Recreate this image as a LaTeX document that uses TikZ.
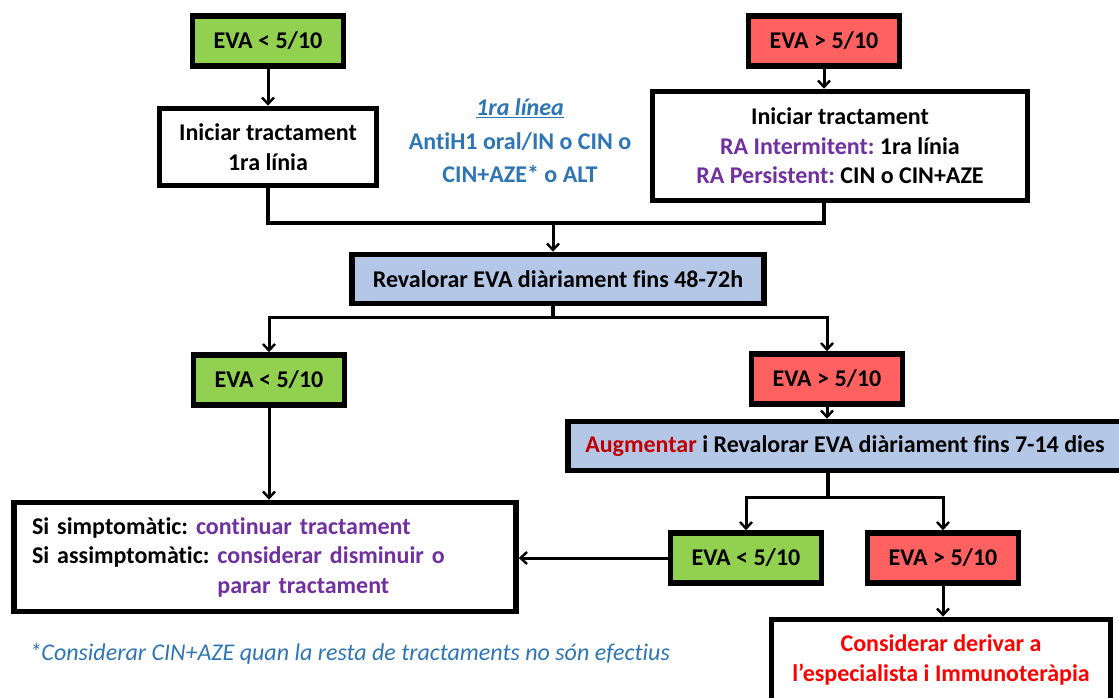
\documentclass[tikz,border=0pt]{standalone}
\usepackage{fontspec}
\setmainfont{Carlito}[Ligatures={NoCommon}]
\usepackage[svgnames]{xcolor}
\usepackage{tikz}
\usetikzlibrary{positioning, arrows.meta, calc}

\definecolor{evagreen}{HTML}{92D050}
\definecolor{evared}{HTML}{FF6161}
\definecolor{evablue}{HTML}{B4C7E7}
\definecolor{notblue}{HTML}{2E75B6}
\definecolor{stepviolet}{HTML}{7030A0}
\definecolor{augred}{HTML}{C00000}
\definecolor{derivred}{HTML}{FF0000}

\def\evafont{\fontsize{24}{29.5}\selectfont\bfseries\frenchspacing}

\begin{document}
\begin{tikzpicture}[x=1pt, y=-1pt,
    box/.style={draw=black, line width=5.5pt, font=\evafont, inner sep=3pt, align=center},
    lowbox/.style={box, fill=evagreen, minimum width=151, minimum height=50},
    highbox/.style={box, fill=evared, minimum width=151, minimum height=50},
    evalbox/.style={box, fill=evablue, minimum height=49},
    plainbox/.style={box, fill=white},
    guide/.style={font=\fontsize{24}{33.5}\selectfont\bfseries\frenchspacing, text=notblue, align=center},
    footnote/.style={font=\fontsize{24}{29}\selectfont\itshape, text=notblue},
    link/.style={line width=3pt, -{Straight Barb[length=6.5pt, width=12pt, line width=2.4pt]}},
    joint/.style={line width=3.4pt, line join=miter}]

    \useasboundingbox (0,0) rectangle (1119,698);

    % first step
    \node[lowbox] (g1) at (268,41) {EVA < 5/10};
    \node[highbox] (r1) at (824,41) {EVA > 5/10};
    \node[plainbox, minimum width=217, minimum height=77] (t1) at (268,147)
        {Iniciar tractament\\1ra línia};
    \node[plainbox, minimum width=375, minimum height=109] (t2) at (840,146)
        {Iniciar tractament\\
         {\color{stepviolet}RA Intermitent:} 1ra línia\\
         {\color{stepviolet}RA Persistent:} CIN o CIN+AZE};
    \node[guide] (info) at (520,141)
        {\underline{\itshape 1ra línea}\\AntiH1 oral/IN o CIN o\\CIN+AZE* o ALT};

    % revaluation
    \node[evalbox, minimum width=412] (rev1) at (558,279) {Revalorar EVA diàriament fins 48-72h};
    \node[lowbox] (g2) at (269,380) {EVA < 5/10};
    \node[highbox] (r2) at (827,379) {EVA > 5/10};
    \node[evalbox, minimum width=554] (rev2) at (845,446)
        {{\color{augred}Augmentar} i Revalorar EVA diàriament fins 7-14 dies};
    \node[lowbox] (g3) at (746,558) {EVA < 5/10};
    \node[highbox] (r3) at (943,558) {EVA > 5/10};

    % outcomes
    \node[plainbox, text width=466, inner xsep=18, minimum height=109, align=left] (res1) at (265,557)
        {Si simptomàtic: {\color{stepviolet}continuar tractament}\\
         Si assimptomàtic: {\color{stepviolet}considerar disminuir o}\\
         \hphantom{Si assimptomàtic: }{\color{stepviolet}parar tractament}};
    \node[plainbox, minimum width=339, minimum height=81, text=derivred] (res2) at (941,660)
        {Considerar derivar a\\l’especialista i Immunoteràpia};
    \node[footnote, anchor=west] (foot) at (26,654)
        {*Considerar CIN+AZE quan la resta de tractaments no són efectius};

    % connectors
    \coordinate (m1) at (553,223);
    \coordinate (s1) at (553,317);
    \coordinate (s2) at (828,497);

    \draw[link] (g1) -- (t1);
    \draw[link] (r1) -- (r1 |- t2.north);
    \draw[joint] (t1.south) |- (m1) -| (r1 |- t2.south);
    \draw[link] (m1) -- (m1 |- rev1.north);

    \draw[joint] (s1 |- rev1.south) -- (s1);
    \draw[link] (s1) -| (g2);
    \draw[link] (s1) -| (r2);
    \draw[link] (g2) -- (g2 |- res1.north);
    \draw[link] (r2) -- (r2 |- rev2.north);

    \draw[joint] (s2 |- rev2.south) -- (s2);
    \draw[link] (s2) -| (g3);
    \draw[link] (s2) -| (r3);
    \draw[link] (g3.west) -- (g3.west -| res1.east);
    \draw[link] (r3) -- (r3 |- res2.north);
\end{tikzpicture}
\end{document}
